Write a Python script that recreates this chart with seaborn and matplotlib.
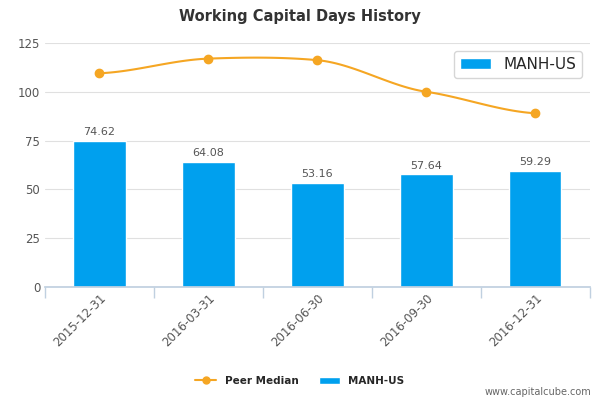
import numpy as np
import matplotlib
matplotlib.use("Agg")
import matplotlib.pyplot as plt
import seaborn as sns
import pandas as pd

categories = ["2015-12-31", "2016-03-31", "2016-06-30", "2016-09-30", "2016-12-31"]
manh = [74.62, 64.08, 53.16, 57.64, 59.29]
peer = [109.5, 117.0, 116.2, 100.0, 89.0]
yticks = [0, 25, 50, 75, 100, 125]

sns.set_theme(style="white")
plt.rcParams['font.family'] = ['DejaVu Sans']
fig = plt.figure(figsize=(6, 4), dpi=100)
ax = fig.add_axes([0.075, 0.2825, 0.908, 0.61])

df = pd.DataFrame({"date": categories, "v": manh})
sns.barplot(data=df, x="date", y="v", color="#00a0ee", width=0.48, ax=ax, saturation=1, label="MANH-US")
for i, v in enumerate(manh):
    ax.text(i, v + 2, f"{v:.2f}", ha="center", va="bottom", fontsize=8, color="#555555")

# smooth curve (Catmull-Rom) through peer points
x = np.arange(len(peer)); y = np.array(peer)
xs, ys = [], []
for i in range(len(x) - 1):
    p0 = y[max(i - 1, 0)]; p1 = y[i]; p2 = y[i + 1]; p3 = y[min(i + 2, len(y) - 1)]
    t = np.linspace(0, 1, 30)
    m1 = (p2 - p0) / 2 * 0.6; m2 = (p3 - p1) / 2 * 0.6
    h00 = 2*t**3 - 3*t**2 + 1; h10 = t**3 - 2*t**2 + t; h01 = -2*t**3 + 3*t**2; h11 = t**3 - t**2
    xs.extend(i + t); ys.extend(h00*p1 + h10*m1 + h01*p2 + h11*m2)
ax.plot(xs, ys, color="#f5a623", lw=1.5)
ax.plot(x, y, "o", color="#f5a623", ms=6)
ax.plot([], [], "-o", color="#f5a623", ms=5, label="Peer Median")

ax.set_xlim(-0.5, 4.5)
ax.set_ylim(0, 125)
ax.set_yticks(yticks)
ax.set_xlabel(""); ax.set_ylabel("")
ax.grid(axis="y", color="#e0e0e0", lw=0.8)
ax.set_axisbelow(True)
for s in ["top", "right", "left"]:
    ax.spines[s].set_visible(False)
ax.spines["bottom"].set_color("#c0d0e0")
ax.set_xticks(np.arange(-0.5, 5, 1), minor=True)
ax.tick_params(axis="x", which="minor", length=8, color="#c0d0e0", bottom=True)
ax.tick_params(axis="x", which="major", length=0)
ax.set_xticks(range(5))
ax.set_xticklabels(categories, rotation=45, ha="right", fontsize=8.5, color="#555555", rotation_mode="anchor")
ax.tick_params(axis="y", labelsize=8.5, labelcolor="#555555", length=0)

fig.text(0.5, 0.96, "Working Capital Days History", ha="center", va="center", fontsize=10.5, fontweight="bold", color="#333333")
fig.legend(loc="center", bbox_to_anchor=(0.5, 0.048), ncol=2, frameon=False, fontsize=7.5,
           prop={"weight": "bold", "size": 7.5}, handlelength=2, columnspacing=2)
fig.text(0.985, 0.02, "www.capitalcube.com", ha="right", va="center", fontsize=7, color="#666666")
fig.savefig("out.png")
